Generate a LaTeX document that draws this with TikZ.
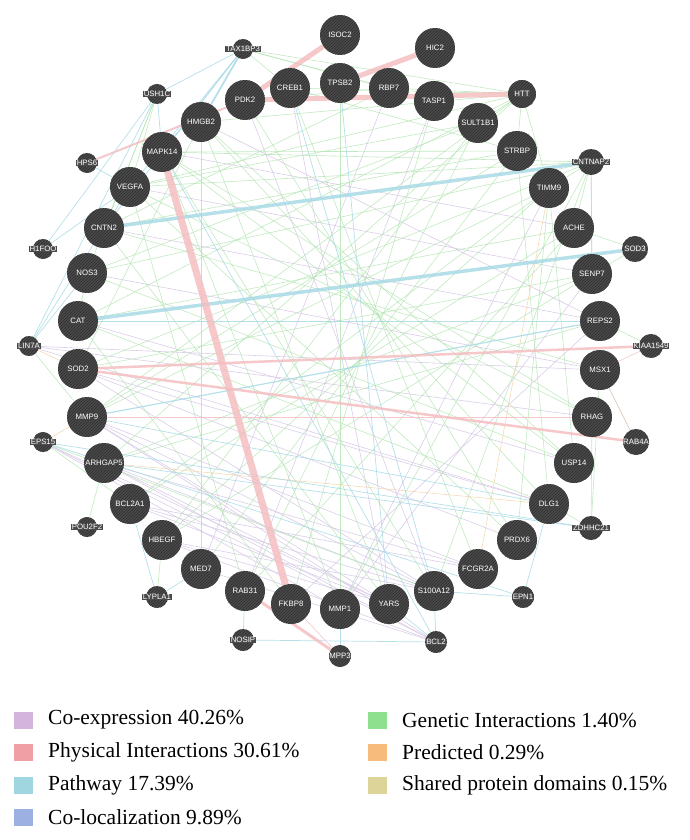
\documentclass[tikz,border=0pt]{standalone}
\usepackage{fontspec}
\setmainfont{Liberation Serif}
\newfontfamily\genefont{Liberation Sans}
\usetikzlibrary{patterns}
\definecolor{nodegray}{RGB}{74,74,74}
\definecolor{stripegray}{RGB}{48,48,48}
\definecolor{genc}{RGB}{178,228,178}
\definecolor{coec}{RGB}{214,200,230}
\definecolor{pthc}{RGB}{168,218,230}
\definecolor{phyc}{RGB}{244,190,193}
\definecolor{prdc}{RGB}{246,212,170}
\definecolor{lgcoe}{RGB}{212,180,220}
\definecolor{lgphy}{RGB}{240,160,164}
\definecolor{lgpth}{RGB}{160,214,224}
\definecolor{lgcol}{RGB}{156,176,226}
\definecolor{lggen}{RGB}{142,224,142}
\definecolor{lgprd}{RGB}{247,188,124}
\definecolor{lgshd}{RGB}{220,212,152}
\pgfdeclarelayer{edges}
\pgfsetlayers{edges,main}
\newcommand\slab[1]{\makebox[0pt]{\setlength\fboxsep{0.7pt}\colorbox{nodegray}{#1}}}
\begin{document}
\begin{tikzpicture}[x=1pt,y=-1pt,
  bignode/.style={circle,fill=nodegray,postaction={pattern=north east lines,pattern color=stripegray},
    minimum size=40pt,inner sep=0pt,text=white,font=\genefont\fontsize{7.8}{8}\selectfont},
  smallnode/.style={circle,fill=nodegray,postaction={pattern=north east lines,pattern color=stripegray},
    inner sep=0pt,text=white,font=\genefont\fontsize{7.8}{8}\selectfont},
  gen/.style={draw=genc,line width=0.6pt,draw opacity=0.8},
  coe/.style={draw=coec,line width=0.6pt,draw opacity=0.9},
  pth/.style={draw=pthc,line width=0.7pt,draw opacity=0.85},
  phy/.style={draw=phyc,line width=0.6pt,draw opacity=0.85},
  prd/.style={draw=prdc,line width=0.5pt},
  lgbox/.style={minimum width=19pt,minimum height=17pt,inner sep=0pt},
  lgtext/.style={anchor=west,inner sep=0pt,font=\fontsize{21.5}{24}\selectfont}
]
\useasboundingbox (0,0) rectangle (689,840);
% large genes
\node[bignode] (ISOC2) at (340,35) {ISOC2};
\node[bignode] (HIC2) at (435,48) {HIC2};
\node[bignode] (TPSB2) at (340,83) {TPSB2};
\node[bignode] (CREB1) at (290,88) {CREB1};
\node[bignode] (RBP7) at (389,88) {RBP7};
\node[bignode] (PDK2) at (245,100) {PDK2};
\node[bignode] (TASP1) at (434,101) {TASP1};
\node[bignode] (SULT1B1) at (478,123) {SULT1B1};
\node[bignode] (HMGB2) at (201,122) {HMGB2};
\node[bignode] (MAPK14) at (162,152) {MAPK14};
\node[bignode] (STRBP) at (517,151) {STRBP};
\node[bignode] (VEGFA) at (130,187) {VEGFA};
\node[bignode] (TIMM9) at (549,188) {TIMM9};
\node[bignode] (CNTN2) at (104,228) {CNTN2};
\node[bignode] (ACHE) at (574,228) {ACHE};
\node[bignode] (NOS3) at (87,273) {NOS3};
\node[bignode] (SENP7) at (592,274) {SENP7};
\node[bignode] (CAT) at (78,321) {CAT};
\node[bignode] (REPS2) at (600,321) {REPS2};
\node[bignode] (SOD2) at (78,369) {SOD2};
\node[bignode] (MSX1) at (600,370) {MSX1};
\node[bignode] (MMP9) at (87,417) {MMP9};
\node[bignode] (RHAG) at (592,417) {RHAG};
\node[bignode] (ARHGAP5) at (104,463) {ARHGAP5};
\node[bignode] (USP14) at (574,463) {USP14};
\node[bignode] (BCL2A1) at (130,504) {BCL2A1};
\node[bignode] (DLG1) at (549,504) {DLG1};
\node[bignode] (HBEGF) at (162,540) {HBEGF};
\node[bignode] (PRDX6) at (517,540) {PRDX6};
\node[bignode] (MED7) at (201,569) {MED7};
\node[bignode] (FCGR2A) at (478,569) {FCGR2A};
\node[bignode] (RAB31) at (245,591) {RAB31};
\node[bignode] (S100A12) at (434,591) {S100A12};
\node[bignode] (FKBP8) at (291,604) {FKBP8};
\node[bignode] (YARS) at (389,604) {YARS};
\node[bignode] (MMP1) at (340,609) {MMP1};
% small genes
\node[smallnode,minimum size=20pt] (TAX1BP3) at (243,49) {\slab{TAX1BP3}};
\node[smallnode,minimum size=20pt] (USH1C) at (157,94) {\slab{USH1C}};
\node[smallnode,minimum size=20pt] (HPS6) at (87,163) {\slab{HPS6}};
\node[smallnode,minimum size=20pt] (H1FOO) at (43,249) {\slab{H1FOO}};
\node[smallnode,minimum size=20pt] (LIN7A) at (29,346) {\slab{LIN7A}};
\node[smallnode,minimum size=20pt] (EPS15) at (43,442) {\slab{EPS15}};
\node[smallnode,minimum size=20pt] (POU2F2) at (87,527) {\slab{POU2F2}};
\node[smallnode,minimum size=22pt] (LYPLA1) at (157,597) {\slab{LYPLA1}};
\node[smallnode,minimum size=22pt] (NOSIP) at (243,640) {\slab{NOSIP}};
\node[smallnode,minimum size=22pt] (MPP3) at (340,656) {\slab{MPP3}};
\node[smallnode,minimum size=22pt] (BCL2) at (436,642) {\slab{BCL2}};
\node[smallnode,minimum size=22pt] (EPN1) at (523,597) {\slab{EPN1}};
\node[smallnode,minimum size=24pt] (ZDHHC21) at (591,528) {\slab{ZDHHC21}};
\node[smallnode,minimum size=26pt] (RAB4A) at (636,442) {\slab{RAB4A}};
\node[smallnode,minimum size=24pt] (KIAA1549) at (651,346) {\slab{KIAA1549}};
\node[smallnode,minimum size=26pt] (SOD3) at (635,249) {\slab{SOD3}};
\node[smallnode,minimum size=26pt] (CNTNAP2) at (591,162) {\slab{CNTNAP2}};
\node[smallnode,minimum size=28pt] (HTT) at (522,94) {\slab{HTT}};
\begin{pgfonlayer}{edges}
% co-expression
\foreach \a/\b in {EPS15/YARS,EPS15/BCL2,ARHGAP5/S100A12,ARHGAP5/YARS,ARHGAP5/FCGR2A,
  BCL2A1/S100A12,BCL2A1/FCGR2A,MMP9/S100A12,MMP9/BCL2,MMP9/YARS,SOD2/PRDX6,SOD2/DLG1,
  CAT/USP14,HBEGF/S100A12,HBEGF/BCL2,MED7/BCL2,LIN7A/DLG1,LIN7A/MSX1,VEGFA/SENP7,
  CNTN2/REPS2,MAPK14/ACHE,HMGB2/REPS2,NOS3/MSX1,SENP7/MMP1,REPS2/FKBP8,TIMM9/MMP1,
  RBP7/MED7,TASP1/RAB31,CREB1/YARS,PDK2/S100A12,EPS15/MMP1,ARHGAP5/BCL2,BCL2A1/YARS,
  MMP9/FCGR2A,LIN7A/RHAG,HBEGF/YARS,SOD2/S100A12}
  \draw[coe] (\a) -- (\b);
% genetic interactions
\foreach \a/\b in {HTT/SULT1B1,HTT/STRBP,HTT/TIMM9,HTT/CREB1,HTT/HMGB2,HTT/VEGFA,
  HTT/CAT,HTT/MMP9,HTT/ARHGAP5,TAX1BP3/RBP7,TAX1BP3/TASP1,TAX1BP3/HTT,CNTNAP2/TIMM9,
  CNTNAP2/ACHE,CNTNAP2/MAPK14,CNTNAP2/VEGFA,CNTNAP2/NOS3,CNTNAP2/SOD2,CNTNAP2/MMP1,
  CNTNAP2/S100A12,STRBP/MAPK14,STRBP/CNTN2,STRBP/MED7,SULT1B1/HBEGF,SULT1B1/VEGFA,
  TIMM9/BCL2A1,TIMM9/MMP9,ACHE/CAT,ACHE/RAB31,SENP7/SOD2,SENP7/HBEGF,REPS2/ARHGAP5,
  MSX1/CNTN2,RHAG/VEGFA,USP14/NOS3,USP14/MAPK14,DLG1/HMGB2,DLG1/CAT,PRDX6/VEGFA,
  PRDX6/PDK2,FCGR2A/CREB1,S100A12/MAPK14,YARS/HMGB2,YARS/CNTN2,MMP1/TPSB2,FKBP8/TASP1,
  RAB31/SULT1B1,HBEGF/TIMM9,BCL2A1/ACHE,ARHGAP5/SENP7,MMP9/STRBP,NOS3/SULT1B1,
  CNTN2/RBP7,MAPK14/RHAG,HMGB2/USP14,USH1C/VEGFA,USH1C/CNTN2,USH1C/NOS3,ZDHHC21/MSX1,
  ZDHHC21/RHAG,ZDHHC21/DLG1,RAB4A/MSX1,EPS15/BCL2A1,EPS15/S100A12,LIN7A/MMP9,
  LYPLA1/HBEGF,POU2F2/ARHGAP5,MED7/HMGB2,RAB31/VEGFA,FKBP8/CAT,MMP1/MAPK14,
  DLG1/STRBP,USP14/TIMM9,PRDX6/TIMM9,CREB1/STRBP,PDK2/RBP7,SOD3/ACHE,SOD3/SENP7,
  KIAA1549/REPS2,HTT/RBP7,TAX1BP3/CREB1,CAT/NOS3,HMGB2/SOD2}
  \draw[gen] (\a) -- (\b);
% predicted
\foreach \a/\b in {LIN7A/SOD2,CNTNAP2/SENP7,EPS15/MMP9,TIMM9/FCGR2A,ARHGAP5/DLG1}
  \draw[prd] (\a) -- (\b);
% pathway
\foreach \a/\b in {TAX1BP3/MAPK14,TAX1BP3/USH1C,TAX1BP3/VEGFA,TAX1BP3/CNTN2,
  USH1C/H1FOO,USH1C/LIN7A,USH1C/MAPK14,H1FOO/VEGFA,LIN7A/VEGFA,LIN7A/NOS3,EPS15/EPN1,
  EPS15/ZDHHC21,BCL2A1/LYPLA1,RAB31/NOSIP,NOSIP/BCL2,MPP3/MMP1,BCL2/S100A12,BCL2/YARS,
  EPN1/DLG1,EPN1/S100A12,CREB1/S100A12,MED7/LYPLA1,CAT/REPS2,ARHGAP5/ZDHHC21,
  MMP9/DLG1,HPS6/VEGFA,TPSB2/YARS,MAPK14/BCL2,SENP7/CNTNAP2}
  \draw[pth] (\a) -- (\b);
\draw[pth,line width=1.8pt] (TAX1BP3) -- (HMGB2);
\draw[pth,line width=1.2pt] (REPS2) -- (MMP9);
\draw[pth,line width=3.5pt] (CNTN2) -- (CNTNAP2);
\draw[pth,line width=3.5pt] (CAT) -- (SOD3);
% physical interactions
\foreach \a/\b in {KIAA1549/MSX1,MSX1/RAB4A,FKBP8/MPP3,MMP9/RHAG}
  \draw[phy] (\a) -- (\b);
\draw[phy,line width=2pt] (HPS6) -- (PDK2);
\draw[phy,line width=2.5pt] (SOD2) -- (KIAA1549);
\draw[phy,line width=2.5pt] (SOD2) -- (RAB4A);
\draw[phy,line width=3pt] (RAB31) -- (MPP3);
\draw[phy,line width=5pt] (PDK2) -- (ISOC2);
\draw[phy,line width=5pt] (TPSB2) -- (HIC2);
\draw[phy,line width=5pt] (PDK2) -- (HTT);
\draw[phy,line width=7pt] (MAPK14) -- (FKBP8);
\end{pgfonlayer}
% legend
\node[lgbox,fill=lgcoe] (k1) at (23.5,720) {};
\node[lgtext] (t1) at (48,720) {Co-expression 40.26\%};
\node[lgbox,fill=lgphy] (k2) at (23.5,752) {};
\node[lgtext] (t2) at (48,752) {Physical Interactions 30.61\%};
\node[lgbox,fill=lgpth] (k3) at (23.5,785) {};
\node[lgtext] (t3) at (48,785) {Pathway 17.39\%};
\node[lgbox,fill=lgcol] (k4) at (23.5,817) {};
\node[lgtext] (t4) at (48,817) {Co-localization 9.89\%};
\node[lgbox,fill=lggen] (k5) at (377.5,720) {};
\node[lgtext] (t5) at (402,720) {Genetic Interactions 1.40\%};
\node[lgbox,fill=lgprd] (k6) at (377.5,752) {};
\node[lgtext] (t6) at (402,752) {Predicted 0.29\%};
\node[lgbox,fill=lgshd] (k7) at (377.5,785) {};
\node[lgtext] (t7) at (402,785) {Shared protein domains 0.15\%};
\end{tikzpicture}
\end{document}
